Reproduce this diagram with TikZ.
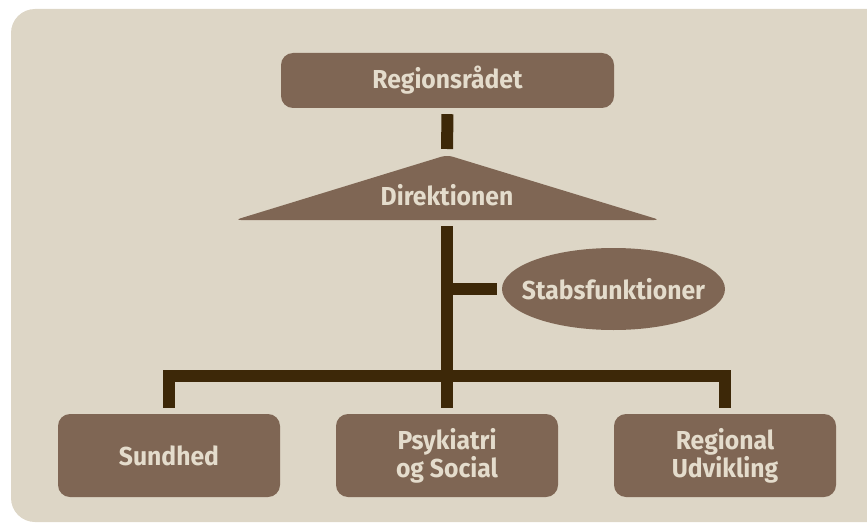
\documentclass[tikz,border=0pt]{standalone}
\usepackage{fontspec}
\newfontfamily\orgfont{Fira Sans}[FakeStretch=0.95]
\usetikzlibrary{shapes.geometric}
\definecolor{paper}{HTML}{DDD6C6}
\definecolor{boxbrown}{HTML}{7F6654}
\definecolor{barbrown}{HTML}{3D2808}
\definecolor{boxtext}{HTML}{E4DCCC}
\tikzset{
  labeltext/.style={text=boxtext, font=\orgfont\bfseries\fontsize{26}{25}\selectfont},
  unitbox/.style={labeltext, fill=boxbrown, rounded corners=12pt, align=center,
    inner sep=0pt},
  bar/.style={draw=barbrown, line width=12pt, line join=miter},
}
\begin{document}
\begin{tikzpicture}[x=1pt,y=-1pt]
\useasboundingbox (0,0) rectangle (867,524);
% background
\fill[paper, rounded corners=24pt] (11,9) rectangle (900,522);
% top
\node[unitbox, minimum width=333pt, minimum height=55pt] (raad) at (447.5,80.5) {Regionsrådet};
\coordinate (apex) at (447,155);
\fill[boxbrown, rounded corners=6pt] (235,220) -- (apex) -- (660,220) -- cycle;
\node[labeltext] (dir) at (447,195) {Direktionen};
\coordinate (base) at (447,220);
% staff
\node[ellipse, fill=boxbrown, labeltext, minimum width=223pt, minimum height=82pt,
  inner sep=0pt] (stab) at (613.5,289) {\makebox[0pt]{Stabsfunktioner}};
% departments
\node[unitbox, minimum width=222pt, minimum height=83pt] (sund) at (169,455.5) {Sundhed};
\node[unitbox, minimum width=222pt, minimum height=83pt] (psyk) at (447,455.5) {Psykiatri\\og Social};
\node[unitbox, minimum width=222pt, minimum height=83pt] (reg) at (725,455.5) {Regional\\Udvikling};
\coordinate (hub) at (447,376);
\coordinate (tap) at (447,289);
% connectors
\draw[bar, shorten <=6pt, shorten >=6pt] (raad.south) -- (apex);
\draw[bar, shorten <=6pt, shorten >=6pt] (base) -- (psyk.north);
\draw[bar, shorten >=5pt] (tap) -- (stab.west);
\draw[bar, shorten <=6pt, shorten >=6pt] (sund.north) |- (hub) -| (reg.north);
\end{tikzpicture}
\end{document}
